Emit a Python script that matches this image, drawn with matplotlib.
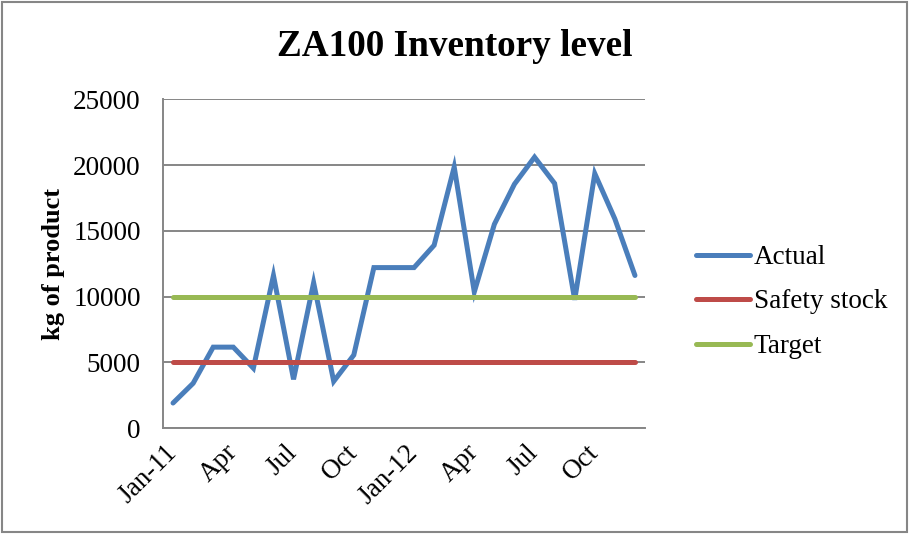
import numpy as np
import matplotlib.pyplot as plt
from matplotlib.patches import Rectangle

plt.rcParams['font.family'] = ['Liberation Serif', 'DejaVu Serif']

# Monthly inventory, Jan 2011 - Dec 2012
months = ['Jan-11', 'Feb', 'Mar', 'Apr', 'May', 'Jun', 'Jul', 'Aug', 'Sep', 'Oct', 'Nov', 'Dec',
          'Jan-12', 'Feb', 'Mar', 'Apr', 'May', 'Jun', 'Jul', 'Aug', 'Sep', 'Oct', 'Nov', 'Dec']
actual = [1900, 3400, 6150, 6150, 4550, 11600, 3700, 11050, 3550, 5550, 12200, 12200,
          12200, 13900, 19850, 10350, 15500, 18550, 20600, 18600, 9750, 19350, 15900, 11600]
safety_stock = [5000] * 24
target = [10000] * 24

x = np.arange(len(months))

fig = plt.figure(figsize=(9.09, 5.34), dpi=100)
ax = fig.add_axes([163 / 909, 1 - 428 / 534, (645 - 163) / 909, (428 - 99.3) / 534])

# outer chart border
fig.patches.append(Rectangle((0.002, 0.003), 0.996, 0.994, transform=fig.transFigure,
                             fill=False, edgecolor='#868686', linewidth=1.5))

ax.plot(x, actual, color='#4A7EBB', lw=3.6, solid_capstyle='round', solid_joinstyle='miter', label='Actual', zorder=3)
ax.plot(x, safety_stock, color='#BE4B48', lw=3.6, solid_capstyle='round', label='Safety stock', zorder=3)
ax.plot(x, target, color='#98B954', lw=3.6, solid_capstyle='round', label='Target', zorder=3)

ax.set_xlim(-0.5, 23.5)
ax.set_ylim(0, 25000)
ax.set_yticks(np.arange(0, 25001, 5000))
ax.yaxis.grid(True, color='#868686', lw=1.4)
ax.set_axisbelow(True)

ticks = x[::3]
ax.set_xticks(ticks)
ax.set_xticklabels([months[i] for i in ticks], rotation=45, ha='right', va='center',
                   rotation_mode='anchor')
ax.tick_params(axis='x', length=0, pad=15, labelsize=19.5)
ax.tick_params(axis='y', length=0, pad=16, labelsize=19.5)

for side in ['top', 'right']:
    ax.spines[side].set_visible(False)
for side in ['left', 'bottom']:
    ax.spines[side].set_color('#868686')
    ax.spines[side].set_linewidth(1.4)

ax.set_ylabel('kg of product', fontsize=19, fontweight='bold', labelpad=6)
fig.text(0.5 * (278 + 632) / 909, 1 - 47 / 534, 'ZA100 Inventory level',
         fontsize=26.8, fontweight='bold', ha='center', va='center')

ax.legend(loc='center left', bbox_to_anchor=(682 / 909, 1 - 302 / 534), bbox_transform=fig.transFigure,
          frameon=False, fontsize=19.5, handlelength=2.0, handletextpad=0.15, labelspacing=0.72,
          borderpad=0)

fig.savefig('out.png', dpi=100)
